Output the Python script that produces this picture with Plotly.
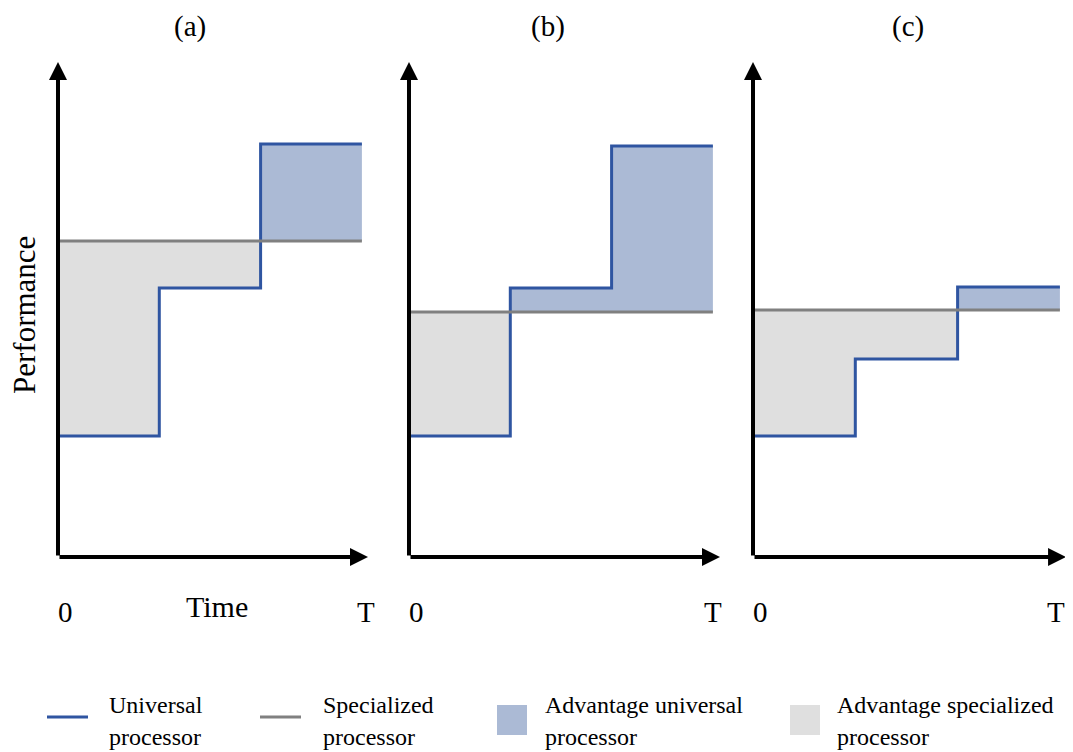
import plotly.graph_objects as go

# ---------------- data ----------------
panel_titles = ["(a)", "(b)", "(c)"]
step_times = [0, 1, 2, 3]                 # step boundaries, T = 3
universal_a = [1.21, 2.69, 4.13]
universal_b = [1.21, 2.69, 4.11]
universal_c = [1.21, 1.98, 2.70]
specialized_a = 3.16
specialized_b = 2.45
specialized_c = 2.47
tick_labels = ["0", "T"]
legend_labels = ["Universal<br>processor", "Specialized<br>processor",
                 "Advantage universal<br>processor", "Advantage specialized<br>processor"]

# ---------------- style ----------------
OFF = 8                      # page body margin
FW, FH = 1073 - OFF, 752 - OFF
BLUE = "#2f55a1"
GREY = "#808080"
BLUE_FILL = "#abbad5"
GREY_FILL = "#dfdfdf"
FONT = "Liberation Serif"


def pxx(p):
    return (p - OFF) / FW


def pxy(p):
    return 1 - (p - OFF) / FH


panels = [
    dict(title=panel_titles[0], u=universal_a, s=specialized_a, x0=58, unit=101.3, tip=3.06, tpos=3.04, cx=190),
    dict(title=panel_titles[1], u=universal_b, s=specialized_b, x0=409, unit=101.3, tip=3.07, tpos=3.0, cx=548),
    dict(title=panel_titles[2], u=universal_c, s=specialized_c, x0=753, unit=102.3, tip=3.06, tpos=2.96, cx=908),
]

XR = [-0.15, 3.1]
YR = [-0.9, 5.2]
Y0PX = 557
YUNIT = 100.0

fig = go.Figure()
layout = dict(width=FW, height=FH, margin=dict(l=0, r=0, t=0, b=0, pad=0),
              plot_bgcolor="white", paper_bgcolor="white", showlegend=False,
              font=dict(family=FONT, color="black"))

ytop_px = Y0PX - YR[1] * YUNIT
ybot_px = Y0PX - YR[0] * YUNIT
ydom = [pxy(ybot_px), pxy(ytop_px)]

annotations = []
shapes = []
TXT = 30

for i, p in enumerate(panels):
    xa = "x" if i == 0 else f"x{i+1}"
    ya = "y" if i == 0 else f"y{i+1}"
    xkey = "xaxis" if i == 0 else f"xaxis{i+1}"
    ykey = "yaxis" if i == 0 else f"yaxis{i+1}"
    left = p["x0"] + XR[0] * p["unit"]
    right = p["x0"] + XR[1] * p["unit"]
    layout[xkey] = dict(domain=[pxx(left), pxx(right)], range=XR, visible=False,
                        fixedrange=True, anchor=ya)
    layout[ykey] = dict(domain=ydom, range=YR, visible=False, fixedrange=True, anchor=xa)

    u = p["u"]
    s = p["s"]
    # fills between the two processors: merge contiguous segments with same sign
    runs = []
    for k in range(len(u)):
        sign = u[k] > s
        if runs and runs[-1][0] == sign:
            runs[-1][1].append(k)
        else:
            runs.append([sign, [k]])
    for sign, idx in runs:
        xs, ys = [], []
        for k in idx:
            xs += [step_times[k], step_times[k + 1]]
            ys += [u[k], u[k]]
        xs += [step_times[idx[-1] + 1], step_times[idx[0]]]
        ys += [s, s]
        fig.add_trace(go.Scatter(x=xs, y=ys, fill="toself", mode="none",
                                 fillcolor=BLUE_FILL if sign else GREY_FILL,
                                 hoverinfo="skip", xaxis=xa, yaxis=ya))
    # universal step line
    ux, uy = [], []
    for k in range(len(u)):
        ux += [step_times[k], step_times[k + 1]]
        uy += [u[k], u[k]]
    fig.add_trace(go.Scatter(x=ux, y=uy, mode="lines", line=dict(color=BLUE, width=3),
                             name="Universal processor", xaxis=xa, yaxis=ya))
    # specialized line
    fig.add_trace(go.Scatter(x=[step_times[0], step_times[-1]], y=[s, s], mode="lines",
                             line=dict(color=GREY, width=3),
                             name="Specialized processor", xaxis=xa, yaxis=ya))

    # axis arrows
    for (tx, ty) in [(p["tip"], 0), (0, 4.95)]:
        annotations.append(dict(x=tx, y=ty, ax=0, ay=0, xref=xa, yref=ya, axref=xa, ayref=ya,
                                showarrow=True, arrowhead=2, arrowwidth=4, arrowsize=0.9,
                                arrowcolor="black", text=""))
    # tick labels
    annotations.append(dict(x=0.07, y=-0.55, xref=xa, yref=ya, text=tick_labels[0],
                            xanchor="center", yanchor="middle",
                            showarrow=False, font=dict(size=TXT - 1)))
    annotations.append(dict(x=p["tpos"], y=-0.55, xref=xa, yref=ya, text=tick_labels[1],
                            xanchor="center", yanchor="middle",
                            showarrow=False, font=dict(size=TXT - 1)))
    # panel title
    annotations.append(dict(x=pxx(p["cx"]), y=pxy(27), xref="paper", yref="paper",
                            xanchor="center", yanchor="middle",
                            text=p["title"], showarrow=False, font=dict(size=TXT - 1)))

# axis titles
annotations.append(dict(x=1.57, y=-0.49, xref="x", yref="y", text="Time", showarrow=False,
                        xanchor="center", yanchor="middle", font=dict(size=TXT)))
annotations.append(dict(x=pxx(24), y=pxy(315), xref="paper", yref="paper", text="Performance",
                        xanchor="center", yanchor="middle",
                        textangle=-90, showarrow=False, font=dict(size=TXT + 1)))

# legend (drawn manually)
shapes.append(dict(type="line", xref="paper", yref="paper", x0=pxx(47), x1=pxx(88),
                   y0=pxy(717), y1=pxy(717), line=dict(color=BLUE, width=3)))
shapes.append(dict(type="line", xref="paper", yref="paper", x0=pxx(260), x1=pxx(301),
                   y0=pxy(717), y1=pxy(717), line=dict(color=GREY, width=3)))
shapes.append(dict(type="rect", xref="paper", yref="paper", x0=pxx(497), x1=pxx(527),
                   y0=pxy(735), y1=pxy(705), fillcolor=BLUE_FILL, line=dict(width=0)))
shapes.append(dict(type="rect", xref="paper", yref="paper", x0=pxx(790), x1=pxx(820),
                   y0=pxy(735), y1=pxy(705), fillcolor=GREY_FILL, line=dict(width=0)))
for lx, lab in zip([107, 321, 543, 835], legend_labels):
    first, second = lab.split("<br>")
    annotations.append(dict(x=pxx(lx), y=pxy(705), xref="paper", yref="paper", text=first,
                            xanchor="left", yanchor="middle", showarrow=False,
                            font=dict(size=24)))
    annotations.append(dict(x=pxx(lx), y=pxy(737), xref="paper", yref="paper", text=second,
                            xanchor="left", yanchor="middle", showarrow=False,
                            font=dict(size=24)))

layout["annotations"] = annotations
layout["shapes"] = shapes
fig.update_layout(**layout)
fig.write_html("out.html")
